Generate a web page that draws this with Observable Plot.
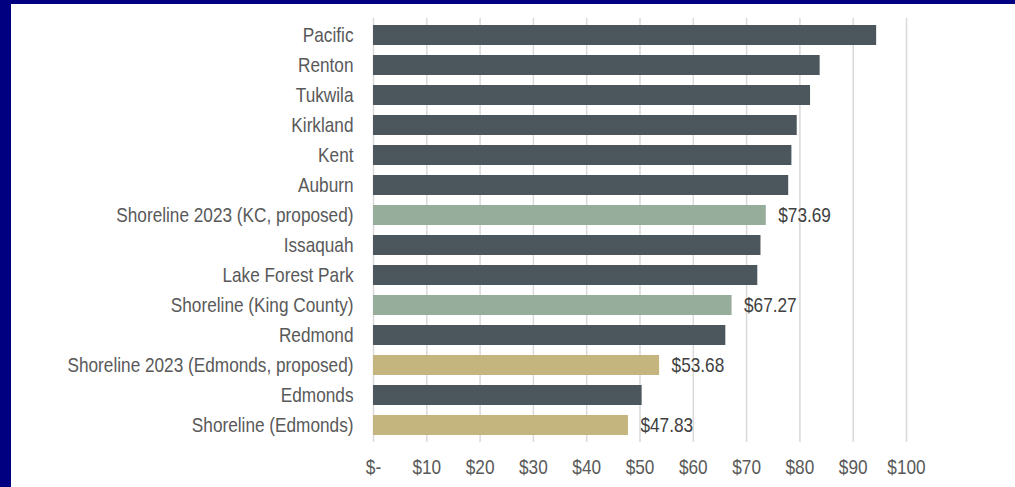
<!DOCTYPE html>
<html>
<head>
<meta charset="utf-8">
<script src="https://cdn.jsdelivr.net/npm/d3@7"></script>
<script src="https://cdn.jsdelivr.net/npm/@observablehq/plot@0.6"></script>
<style>
html, body { margin: 0; padding: 0; background: #000080; width: 1015px; height: 487px; overflow: hidden; }
#frame { position: absolute; left: 11px; top: 4px; width: 1004px; height: 483px; background: #ffffff; }
</style>
</head>
<body>
<div id="frame"></div>
<script>
const cities = [
  "Pacific", "Renton", "Tukwila", "Kirkland", "Kent", "Auburn",
  "Shoreline 2023 (KC, proposed)", "Issaquah", "Lake Forest Park",
  "Shoreline (King County)", "Redmond", "Shoreline 2023 (Edmonds, proposed)",
  "Edmonds", "Shoreline (Edmonds)"
];
const values = [94.4, 83.8, 82.0, 79.5, 78.5, 77.9, 73.69, 72.7, 72.1, 67.27, 66.1, 53.68, 50.4, 47.83];
const groups = ["other", "other", "other", "other", "other", "other", "kc", "other", "other", "kc", "other", "edmonds", "other", "edmonds"];
const showLabel = [false, false, false, false, false, false, true, false, false, true, false, true, false, true];
const xTicks = [0, 10, 20, 30, 40, 50, 60, 70, 80, 90, 100];
const groupNames = ["other", "kc", "edmonds"];
const groupColors = ["#4b575d", "#97ad9c", "#c4b57e"];

const data = cities.map((c, i) => ({city: c, value: values[i], group: groups[i], show: showLabel[i]}));
const labeled = data.filter(d => d.show);
const fmt = d => d === 0 ? "$-" : "$" + d;

const chart = Plot.plot({
  width: 1004,
  height: 483,
  marginTop: 14,
  marginBottom: 45,
  marginLeft: 362,
  marginRight: 109,
  style: {
    fontFamily: '"Liberation Sans", Arial, sans-serif',
    fontSize: "21px",
    color: "#595959",
    background: "#ffffff"
  },
  x: {domain: [0, 100], axis: null},
  y: {domain: cities, paddingInner: 0.34, paddingOuter: 0.17, axis: null},
  color: {domain: groupNames, range: groupColors},
  marks: [
    Plot.ruleX(xTicks, {stroke: "#d9d9d9", strokeWidth: 1.5}),
    Plot.barX(data, {x: "value", y: "city", fill: "group"}),
    Plot.text(labeled, {x: "value", y: "city", text: d => "$" + d.value.toFixed(2), textAnchor: "start", dx: 12, fill: "#404040"}),
    Plot.axisY({tickSize: 0, tickPadding: 20, label: null, fill: "#595959"}),
    Plot.axisX({ticks: xTicks, tickFormat: fmt, tickSize: 0, tickPadding: 17, label: null, fill: "#595959"})
  ]
});

// Narrow the glyphs horizontally (Arial Narrow look) around each text's anchor
chart.querySelectorAll("text").forEach(t => {
  const xa = t.getAttribute("x");
  const x = xa && !/em$/.test(xa) ? parseFloat(xa) : 0;
  if (xa && !/em$/.test(xa)) t.removeAttribute("x");
  const tr = t.getAttribute("transform") || "";
  t.setAttribute("transform", `${tr} translate(${x},0) scale(0.82,1)`);
});

document.getElementById("frame").appendChild(chart);
</script>
</body>
</html>
